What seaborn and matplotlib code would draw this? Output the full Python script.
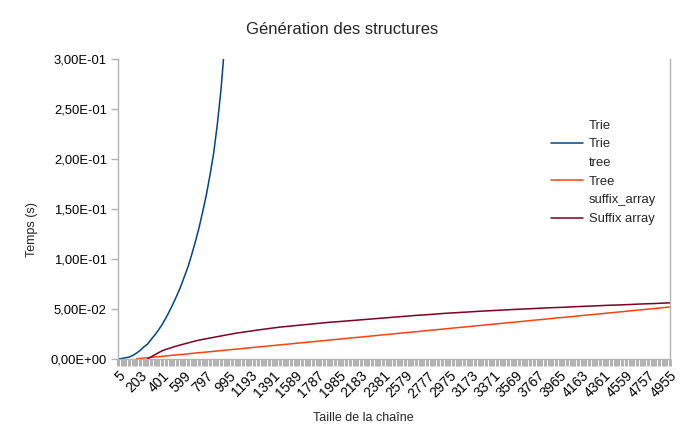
import numpy as np
import pandas as pd
import matplotlib
matplotlib.use("Agg")
import matplotlib.pyplot as plt
from matplotlib.lines import Line2D
from matplotlib.ticker import FuncFormatter
import seaborn as sns

nan = np.nan

# categories: string lengths 5, 38, 71, ... 4955 (step 33)
categories = list(range(5, 4956, 33))

trie = [0.0000, 0.0005, 0.0012, 0.0019, 0.0035, 0.0058, 0.0085, 0.0120, 0.0148, 0.0195,
        0.0240, 0.0290, 0.0345, 0.0410, 0.0480, 0.0555, 0.0635, 0.0720, 0.0820, 0.0920,
        0.1040, 0.1170, 0.1310, 0.1470, 0.1640, 0.1840, 0.2060, 0.2350, 0.2700, 0.3150,
        0.3600] + [nan] * 120

tree = [nan] * 5 + [
    0.0002, 0.0006, 0.0009, 0.0013, 0.0016, 0.0020, 0.0023, 0.0027, 0.0031, 0.0034,
    0.0038, 0.0041, 0.0045, 0.0048, 0.0052, 0.0056, 0.0059, 0.0063, 0.0066, 0.0070,
    0.0073, 0.0077, 0.0081, 0.0084, 0.0088, 0.0091, 0.0095, 0.0098, 0.0102, 0.0106,
    0.0109, 0.0113, 0.0116, 0.0120, 0.0123, 0.0127, 0.0131, 0.0134, 0.0138, 0.0141,
    0.0145, 0.0148, 0.0152, 0.0156, 0.0159, 0.0163, 0.0166, 0.0170, 0.0173, 0.0177,
    0.0181, 0.0184, 0.0188, 0.0191, 0.0195, 0.0198, 0.0202, 0.0206, 0.0209, 0.0213,
    0.0216, 0.0220, 0.0223, 0.0227, 0.0230, 0.0234, 0.0238, 0.0241, 0.0245, 0.0248,
    0.0252, 0.0255, 0.0259, 0.0263, 0.0266, 0.0270, 0.0273, 0.0277, 0.0280, 0.0284,
    0.0288, 0.0291, 0.0295, 0.0298, 0.0302, 0.0305, 0.0309, 0.0313, 0.0316, 0.0320,
    0.0323, 0.0327, 0.0330, 0.0334, 0.0338, 0.0341, 0.0345, 0.0348, 0.0352, 0.0355,
    0.0359, 0.0363, 0.0366, 0.0370, 0.0373, 0.0377, 0.0380, 0.0384, 0.0388, 0.0391,
    0.0395, 0.0398, 0.0402, 0.0405, 0.0409, 0.0413, 0.0416, 0.0420, 0.0423, 0.0427,
    0.0430, 0.0434, 0.0438, 0.0441, 0.0445, 0.0448, 0.0452, 0.0455, 0.0459, 0.0463,
    0.0466, 0.0470, 0.0473, 0.0477, 0.0480, 0.0484, 0.0488, 0.0491, 0.0495, 0.0498,
    0.0502, 0.0505, 0.0509, 0.0513, 0.0516, 0.0520]

suffix_array = [nan] * 8 + [
    0.0000, 0.0021, 0.0042, 0.0063, 0.0082, 0.0096, 0.0108, 0.0119, 0.0131, 0.0141,
    0.0151, 0.0160, 0.0170, 0.0180, 0.0189, 0.0196, 0.0203, 0.0210, 0.0218, 0.0225,
    0.0232, 0.0239, 0.0246, 0.0252, 0.0258, 0.0263, 0.0268, 0.0274, 0.0279, 0.0285,
    0.0290, 0.0295, 0.0299, 0.0304, 0.0309, 0.0314, 0.0319, 0.0322, 0.0326, 0.0330,
    0.0334, 0.0337, 0.0340, 0.0344, 0.0348, 0.0352, 0.0355, 0.0358, 0.0362, 0.0366,
    0.0369, 0.0371, 0.0374, 0.0377, 0.0380, 0.0383, 0.0386, 0.0389, 0.0391, 0.0394,
    0.0397, 0.0400, 0.0403, 0.0406, 0.0410, 0.0414, 0.0417, 0.0420, 0.0423, 0.0426,
    0.0428, 0.0430, 0.0433, 0.0436, 0.0438, 0.0440, 0.0443, 0.0446, 0.0449, 0.0452,
    0.0455, 0.0457, 0.0459, 0.0461, 0.0463, 0.0465, 0.0467, 0.0469, 0.0472, 0.0475,
    0.0477, 0.0479, 0.0480, 0.0482, 0.0484, 0.0486, 0.0488, 0.0490, 0.0492, 0.0494,
    0.0496, 0.0498, 0.0499, 0.0501, 0.0503, 0.0505, 0.0507, 0.0509, 0.0510, 0.0512,
    0.0513, 0.0514, 0.0515, 0.0517, 0.0519, 0.0521, 0.0523, 0.0525, 0.0526, 0.0527,
    0.0528, 0.0530, 0.0532, 0.0534, 0.0536, 0.0537, 0.0538, 0.0539, 0.0540, 0.0541,
    0.0543, 0.0545, 0.0547, 0.0549, 0.0550, 0.0551, 0.0552, 0.0553, 0.0555, 0.0557,
    0.0559, 0.0561, 0.0562]

series_names = ["Trie", "Tree", "Suffix array"]
# legend entries: (label, series drawn or None for a text-only entry)
legend_labels = ["Trie", "Trie", "tree", "Tree", "suffix_array", "Suffix array"]
legend_series = [None, "Trie", None, "Tree", None, "Suffix array"]
colors = {"Trie": "#004586", "Tree": "#ff420e", "Suffix array": "#7e0021"}

sns.set_style("white")
plt.rcParams["font.family"] = ["Liberation Sans", "DejaVu Sans"]

W, H = 686, 446
fig = plt.figure(figsize=(W / 100, H / 100), dpi=100)
ax = fig.add_axes([118 / W, 1 - 359 / H, (670 - 118) / W, (359 - 59) / H])

pos = np.arange(len(categories))
df = pd.DataFrame({"pos": pos, "Trie": trie, "Tree": tree, "Suffix array": suffix_array})
for name in series_names:
    sub = df[["pos", name]].dropna()
    sns.lineplot(data=sub, x="pos", y=name, ax=ax, color=colors[name],
                 linewidth=1.1, legend=False)

ax.set_xlim(0, len(categories) - 1)
ax.set_ylim(0, 0.3)
ax.set_xlabel("")
ax.set_ylabel("")

ax.set_yticks(np.arange(0, 0.3001, 0.05))
ax.yaxis.set_major_formatter(FuncFormatter(lambda v, p: f"{v:.2E}".replace(".", ",")))
ax.set_xticks(pos)
ax.set_xticklabels([str(c) if i % 6 == 0 else "" for i, c in enumerate(categories)],
                   rotation=45, ha="right", rotation_mode="anchor")

gray = "#b3b3b3"
for s in ["left", "bottom", "right"]:
    ax.spines[s].set_visible(True)
    ax.spines[s].set_color(gray)
    ax.spines[s].set_linewidth(1.0)
ax.spines["top"].set_visible(False)
ax.tick_params(axis="both", which="major", direction="out", length=5, width=1.0,
               color=gray, labelsize=9.4, labelcolor="#000000",
               bottom=True, left=True, top=False, right=False)
ax.tick_params(axis="x", width=2.2, pad=2, labelsize=10)
ax.tick_params(axis="y", pad=3)

handles = []
for ser in legend_series:
    if ser is not None:
        handles.append(Line2D([], [], color=colors[ser], linewidth=1.1))
    else:
        handles.append(Line2D([], [], color="none", linewidth=1.1))
ax.legend(handles, legend_labels, loc="center left", bbox_to_anchor=(0.785, 0.622),
          frameon=False, fontsize=9.4, handlelength=2.4, handletextpad=0.45,
          labelspacing=0.5, borderpad=0, borderaxespad=0)

fig.text(342 / W, 1 - 29 / H, "Génération des structures", ha="center", va="center",
         fontsize=12)
fig.text(32 / W, 1 - 230 / H, "Temps (s)", ha="center", va="center", rotation=90,
         fontsize=9)
fig.text(363 / W, 1 - 418 / H, "Taille de la chaîne", ha="center", va="center",
         fontsize=9)

fig.savefig("out.png", dpi=100)
